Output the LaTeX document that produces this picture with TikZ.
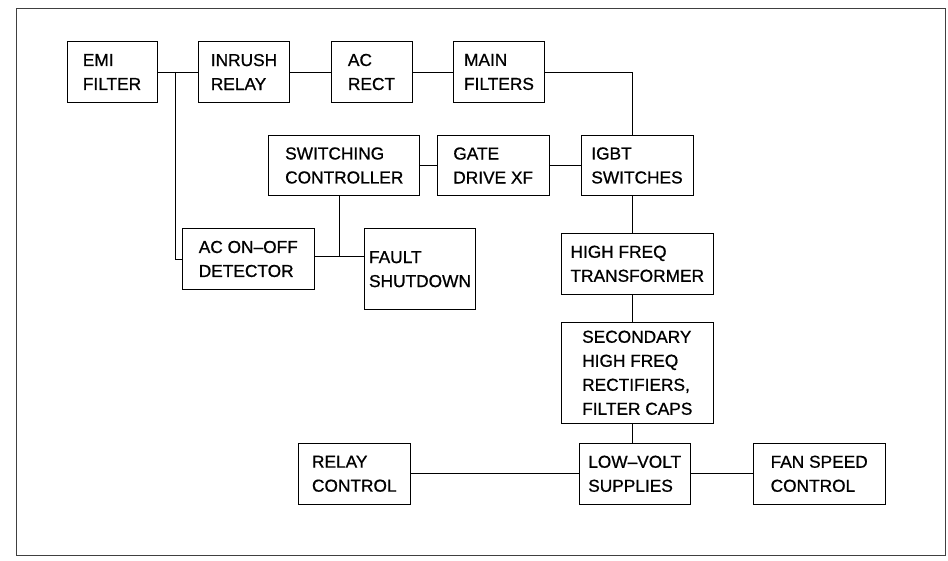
\documentclass[tikz,border=0pt]{standalone}
\usepackage{fontspec}
\setmainfont{Liberation Sans}
\newfontfamily\dwgfont{Liberation Sans}[FakeBold=0.8, Ligatures=TeX]
\usetikzlibrary{positioning}

\begin{document}
\begin{tikzpicture}[x=1pt, y=-1pt, node distance=40.5pt,
        blk/.style={draw, line width=1pt, align=left, inner sep=0pt,
            minimum height=60.5, font=\dwgfont\fontsize{17.3}{24}\selectfont},
        wire/.style={line width=0.8pt}]
        \useasboundingbox (0,0) rectangle (948,561);
        \draw[line width=1pt, black!75] (16,9) rectangle (945,555);

        \node[blk, minimum width=90] (emi) at (112,72) {EMI\\FILTER};
        \node[blk, minimum width=91, right = of emi] (inr) {INRUSH\\RELAY};
        \node[blk, minimum width=81, right = of inr] (rect) {AC\\RECT};
        \node[blk, minimum width=91, right = of rect] (mf) {MAIN\\FILTERS};

        \node[blk, minimum width=151.3] (swc) at (344.3,165.5) {SWITCHING\\CONTROLLER};
        \node[blk, minimum width=111.7] (gate) at (493.2,165.5) {GATE\\DRIVE XF};
        \node[blk, minimum width=112] (igbt) at (637,165.5) {IGBT\\SWITCHES};

        \node[blk, minimum width=132] (acdet) at (248.3,259) {AC ON--OFF\\DETECTOR};
        \node[blk, minimum width=111.4, minimum height=81] (fault) at (420,269.2) {FAULT\\SHUTDOWN};

        \node[blk, minimum width=152, minimum height=61] (hft) at (637.3,263.8) {HIGH FREQ\\TRANSFORMER};
        \node[blk, minimum width=152, minimum height=101] (sec) at (637.3,372.8)
            {SECONDARY\\HIGH FREQ\\RECTIFIERS,\\FILTER CAPS};
        \node[blk, minimum width=111.3, minimum height=61] (lowv) at (634.7,473.8) {LOW--VOLT\\SUPPLIES};
        \node[blk, minimum width=112, minimum height=61] (relay) at (354.3,473.8) {RELAY\\CONTROL};
        \node[blk, minimum width=131.7, minimum height=61] (fan) at (819.2,473.8) {FAN SPEED\\CONTROL};

        \coordinate (tap) at (175.3,72);
        \coordinate (spine) at (632.3,72);
        \coordinate (fbus) at (339.3,256);

        \draw[wire] (emi) -- (inr);
        \draw[wire] (inr) -- (rect);
        \draw[wire] (rect) -- (mf);
        \draw[wire] (tap) |- (acdet.west);
        \draw[wire] (mf.east) -- (spine) -- (spine |- igbt.north);
        \draw[wire] (swc) -- (gate);
        \draw[wire] (gate) -- (igbt);
        \draw[wire] (swc.south -| fbus) -- (fbus);
        \draw[wire] (acdet.east |- fbus) -- (fault.west |- fbus);
        \draw[wire] (igbt.south -| spine) -- (hft.north -| spine);
        \draw[wire] (hft.south -| spine) -- (sec.north -| spine);
        \draw[wire] (sec.south -| spine) -- (lowv.north -| spine);
        \draw[wire] (relay) -- (lowv);
        \draw[wire] (lowv) -- (fan);
    \end{tikzpicture}
\end{document}
